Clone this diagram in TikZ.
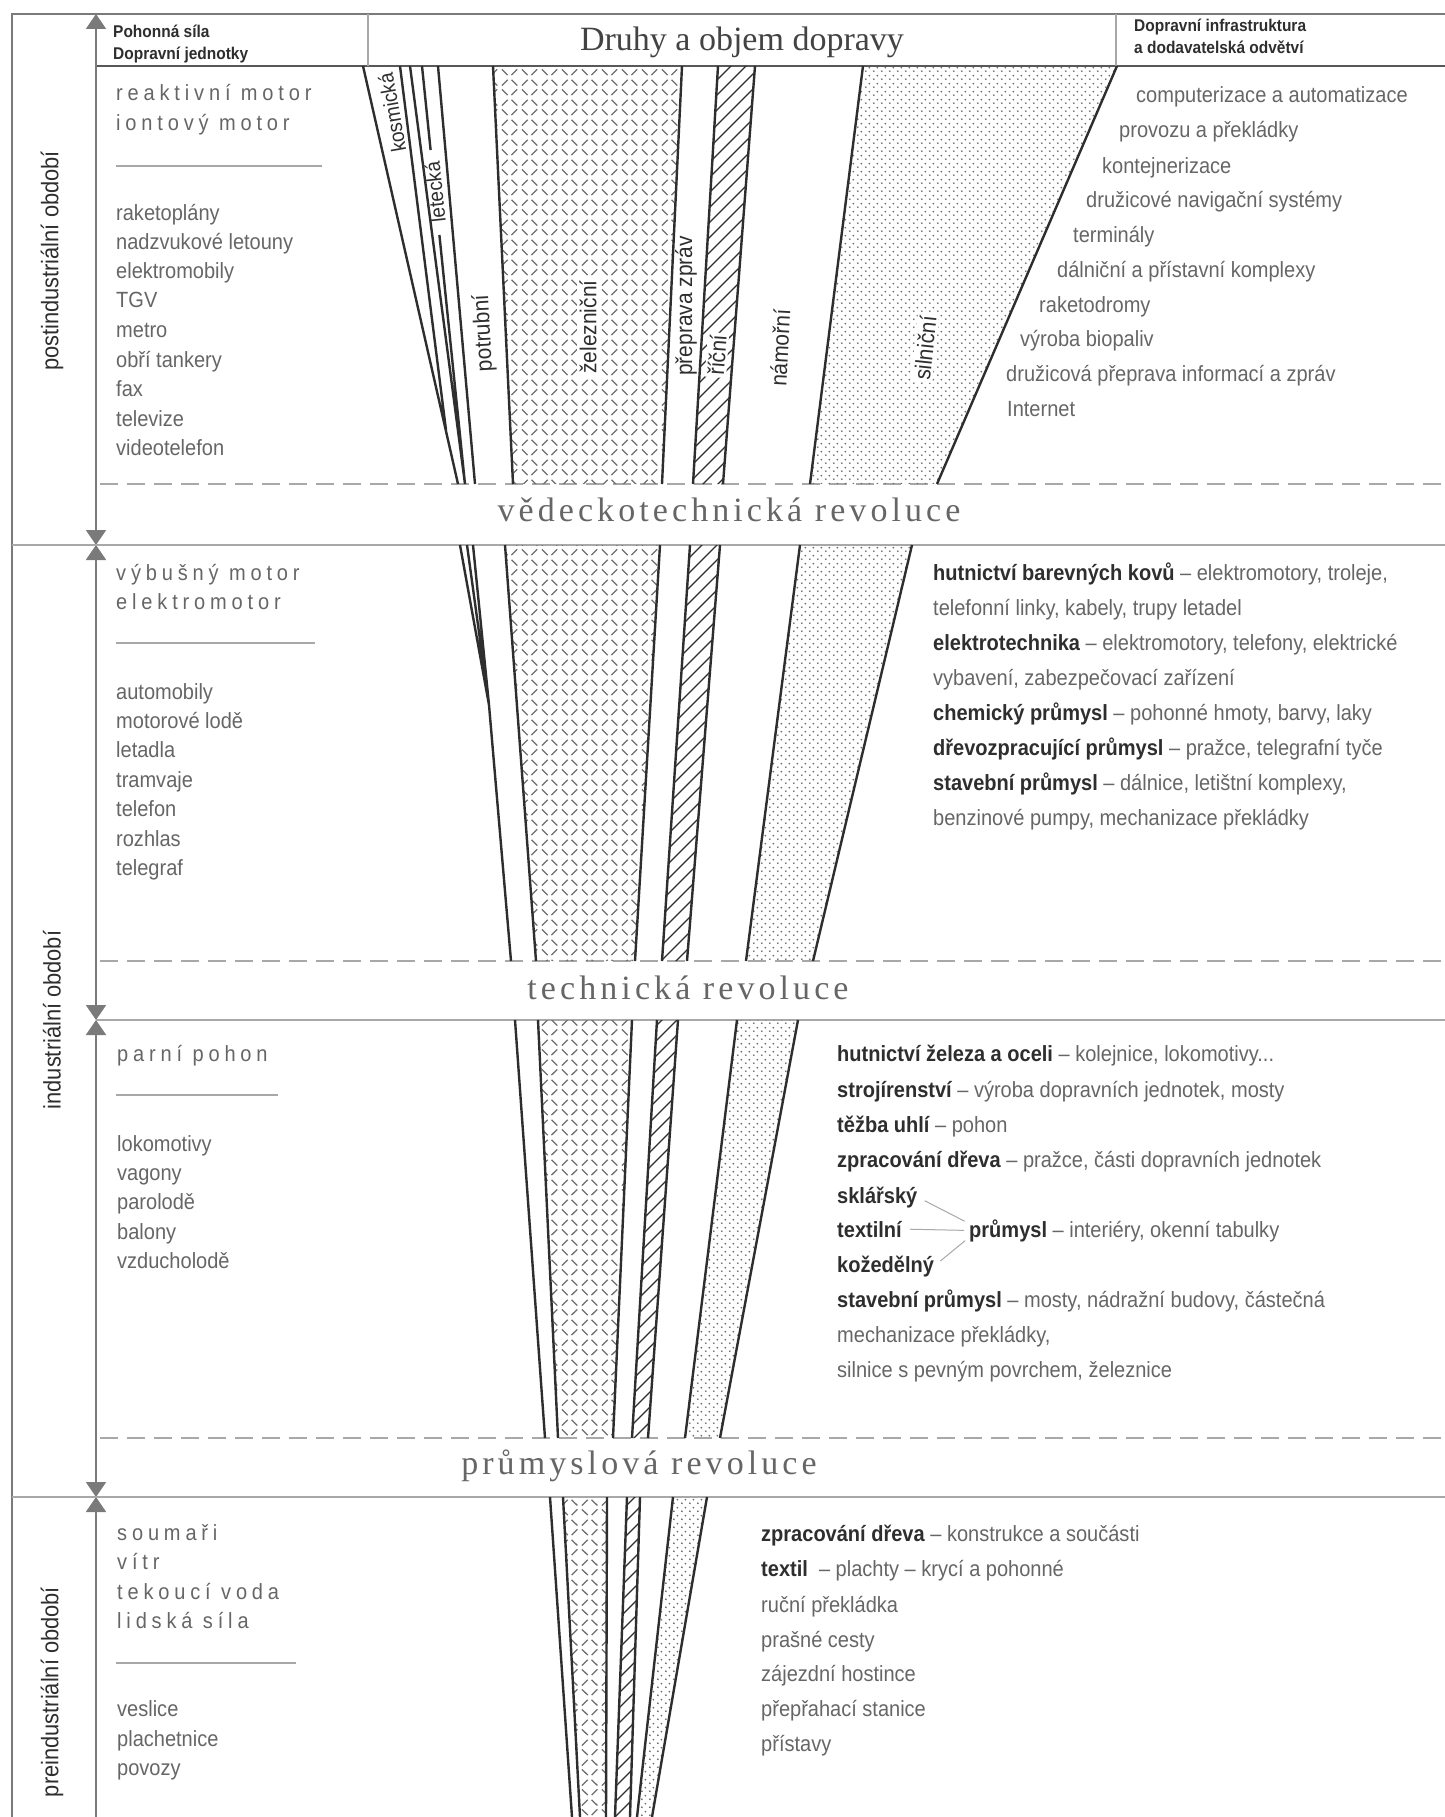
\documentclass[tikz,border=0pt]{standalone}
\usepackage{fontspec}
\setmainfont{Liberation Sans}[FakeStretch=0.91]
\newfontfamily\spaced{Liberation Sans}[FakeStretch=0.91,LetterSpace=22]
\newfontfamily\revfont{Liberation Serif}[LetterSpace=12]
\newfontfamily\titlefont{Liberation Serif}
\usetikzlibrary{arrows.meta,patterns}

\definecolor{ink}{HTML}{2E2E2E}
\definecolor{txt}{HTML}{666666}
\definecolor{framegray}{HTML}{7A7A7A}
\definecolor{rulegray}{HTML}{A8A8A8}
\definecolor{pattgray}{HTML}{6E6E6E}

\pgfdeclarepatternformonly{raildash}{\pgfqpoint{0pt}{0pt}}{\pgfqpoint{20pt}{20pt}}{\pgfqpoint{20pt}{20pt}}{%
  \pgfsetlinewidth{1.3pt}
  \pgfpathmoveto{\pgfqpoint{2pt}{12pt}}\pgfpathlineto{\pgfqpoint{8pt}{18pt}}
  \pgfpathmoveto{\pgfqpoint{12pt}{18pt}}\pgfpathlineto{\pgfqpoint{18pt}{12pt}}
  \pgfpathmoveto{\pgfqpoint{2pt}{8pt}}\pgfpathlineto{\pgfqpoint{8pt}{2pt}}
  \pgfpathmoveto{\pgfqpoint{12pt}{2pt}}\pgfpathlineto{\pgfqpoint{18pt}{8pt}}
  \pgfusepath{stroke}}
\pgfdeclarepatternformonly{rivhatch}{\pgfqpoint{-1pt}{-1pt}}{\pgfqpoint{16pt}{16pt}}{\pgfqpoint{15pt}{15pt}}{%
  \pgfsetlinewidth{1.3pt}
  \pgfpathmoveto{\pgfqpoint{0pt}{0pt}}\pgfpathlineto{\pgfqpoint{15.1pt}{15.1pt}}
  \pgfusepath{stroke}}
\pgfdeclarepatternformonly{roaddots}{\pgfqpoint{0pt}{0pt}}{\pgfqpoint{8pt}{8pt}}{\pgfqpoint{8pt}{8pt}}{%
  \pgfpathcircle{\pgfqpoint{2pt}{2pt}}{1.1pt}
  \pgfpathcircle{\pgfqpoint{6pt}{6pt}}{1.1pt}
  \pgfusepath{fill}}

\newcommand{\bhead}[1]{{\bfseries\color{ink}#1}}

\begin{document}
\begin{tikzpicture}[x=1pt,y=-1pt,>={Triangle[width=20pt,length=15pt]},
    item/.style={anchor=base west,yshift=-8pt,inner sep=0pt,text=txt,font=\fontsize{22}{26}\selectfont},
    power/.style={item,font=\spaced\fontsize{22}{26}\selectfont},
    head/.style={anchor=base west,yshift=-7pt,inner sep=0pt,text=ink,font=\bfseries\fontsize{17}{20}\selectfont},
    mode/.style={inner sep=2pt,text=ink,font=\fontsize{23}{26}\selectfont},
    era/.style={rotate=90,text=ink,font=\fontsize{24}{28}\selectfont},
    revolution/.style={text=txt,font=\revfont\fontsize{34}{40}\selectfont},
    funnel/.style={line width=2.4pt,draw=ink},
    frame/.style={line width=2.5pt,draw=framegray},
    hrule/.style={line width=1.3pt,draw=rulegray},
    cut/.style={hrule,dash pattern=on 18pt off 9pt},
    axis/.style={line width=2pt,draw=framegray,<->},
    brace line/.style={line width=1pt,draw=rulegray,shorten <=8pt,shorten >=5pt},
    rail/.style={pattern=raildash,pattern color=pattgray},
    river/.style={pattern=rivhatch,pattern color=ink},
    road/.style={pattern=roaddots,pattern color=pattgray}]
  \useasboundingbox (0,0) rectangle (1445,1817);
  \fill[white] (0,0) rectangle (1445,1817);

  \draw[frame] (1445,14) -- (12,14) -- (12,1817);
  \draw[line width=2pt,draw=ink!80] (96,66) -- (1445,66);
  \draw[hrule] (368,14) -- (368,66) (1116,14) -- (1116,66);
  \node[head] (hl1) at (113,31) {Pohonná síla};
  \node[head] (hl2) at (113,53) {Dopravní jednotky};
  \node[head] (hr1) at (1134,25) {Dopravní infrastruktura};
  \node[head] (hr2) at (1134,47) {a dodavatelská odvětví};
  \node[text=ink!90,font=\titlefont\fontsize{34}{40}\selectfont] (title) at (742,42) {Druhy a objem dopravy};

  \coordinate (ax0) at (96,14);
  \coordinate (ax1) at (96,545);
  \coordinate (ax2) at (96,1020);
  \coordinate (ax3) at (96,1497);
  \coordinate (ax4) at (96,1817);
  \draw[axis] (ax0) -- (ax1);
  \draw[axis] (ax1) -- (ax2);
  \draw[axis] (ax2) -- (ax3);
  \draw[axis,<-] (ax3) -- (ax4);

  \draw[hrule] (12,545) -- (1445,545) (96,1020) -- (1445,1020) (12,1497) -- (1445,1497);
  \draw[cut] (100,484) -- (1445,484) (100,961) -- (1445,961) (100,1438) -- (1445,1438);

  \node[era] (e1) at (52,261) {postindustriální období};
  \node[era] (e2) at (52,1020) {industriální období};
  \node[era] (e3) at (52,1692) {preindustriální období};

  \node[revolution] (r1) at (729,510) {vědeckotechnická revoluce};
  \node[revolution] (r2) at (688,988) {technická revoluce};
  \node[revolution] (r3) at (639,1466) {průmyslová revoluce};

  % postindustrial
  \fill[rail] (493,66) -- (682,66) -- (662,484) -- (513,484) -- cycle;
  \fill[river] (718,66) -- (755,66) -- (723,484) -- (693,484) -- cycle;
  \fill[road] (863,66) -- (1117,66) -- (937,484) -- (810,484) -- cycle;
  \draw[funnel] (363,66) -- (458,484) (400,66) -- (446,430) (410,66) -- (465,484)
    (422,66) -- (430.6,150) (439.4,235) -- (465,484) (438,66) -- (475,484)
    (493,66) -- (513,484) (682,66) -- (662,484) (718,66) -- (693,484)
    (755,66) -- (723,484) (863,66) -- (810,484) (1117,66) -- (937,484);
  \node[mode,rotate=100,inner sep=0pt,font=\fontsize{21}{24}\selectfont] (kos) at (392,113) {kosmická};
  \node[mode,rotate=96,inner sep=0pt,font=\fontsize{21}{24}\selectfont] (let) at (435,192) {letecká};
  \node[mode,rotate=93] (pot) at (484,333) {potrubní};
  \node[mode,rotate=90,fill=white] (zel) at (588,327) {železniční};
  \node[mode,rotate=90] (zpr) at (686,306) {přeprava zpráv};
  \node[mode,rotate=86,fill=white] (ric) at (717,355) {říční};
  \node[mode,rotate=87] (nam) at (780,348) {námořní};
  \node[mode,rotate=84,fill=white] (sil) at (925,348) {silniční};

  % industrial, upper part
  \fill[rail] (505,545) -- (660,545) -- (635,961) -- (536,961) -- cycle;
  \fill[river] (690,545) -- (720,545) -- (687,961) -- (662,961) -- cycle;
  \fill[road] (800,545) -- (912,545) -- (813,961) -- (746,961) -- cycle;
  \draw[funnel] (460,545) -- (489,705) (467,545) -- (489,705) (473,545) -- (489,705) -- (511,961)
    (505,545) -- (536,961) (660,545) -- (635,961) (690,545) -- (662,961)
    (720,545) -- (687,961) (800,545) -- (746,961) (912,545) -- (813,961);

  % industrial, lower part
  \fill[rail] (538,1020) -- (632,1020) -- (613,1438) -- (558,1438) -- cycle;
  \fill[river] (657,1020) -- (678,1020) -- (648,1438) -- (632,1438) -- cycle;
  \fill[road] (737,1020) -- (798,1020) -- (720,1438) -- (685,1438) -- cycle;
  \draw[funnel] (515,1020) -- (545,1438) (538,1020) -- (558,1438) (632,1020) -- (613,1438)
    (657,1020) -- (632,1438) (678,1020) -- (648,1438) (737,1020) -- (685,1438)
    (798,1020) -- (720,1438);

  % preindustrial
  \fill[rail] (563,1497) -- (607,1497) -- (606,1817) -- (580,1817) -- cycle;
  \fill[river] (627,1497) -- (640,1497) -- (630,1817) -- (615,1817) -- cycle;
  \fill[road] (673,1497) -- (707,1497) -- (652,1817) -- (637,1817) -- cycle;
  \draw[funnel] (550,1497) -- (572,1817) (563,1497) -- (580,1817) (607,1497) -- (606,1817)
    (627,1497) -- (615,1817) (640,1497) -- (630,1817) (673,1497) -- (637,1817)
    (707,1497) -- (652,1817);

  % left column
  \node[power] (pp1) at (116,93) {reaktivní motor};
  \node[power] (pp2) at (116,123) {iontový motor};
  \draw[hrule] (116,166) -- (322,166);
  \node[item] (pu1) at (116,212) {raketoplány};
  \node[item] (pu2) at (116,241) {nadzvukové letouny};
  \node[item] (pu3) at (116,270) {elektromobily};
  \node[item] (pu4) at (116,299) {TGV};
  \node[item] (pu5) at (116,329) {metro};
  \node[item] (pu6) at (116,359) {obří tankery};
  \node[item] (pu7) at (116,388) {fax};
  \node[item] (pu8) at (116,418) {televize};
  \node[item] (pu9) at (116,447) {videotelefon};

  \node[power] (ip1) at (116,572) {výbušný motor};
  \node[power] (ip2) at (116,601) {elektromotor};
  \draw[hrule] (116,643) -- (315,643);
  \node[item] (iu1) at (116,691) {automobily};
  \node[item] (iu2) at (116,720) {motorové lodě};
  \node[item] (iu3) at (116,749) {letadla};
  \node[item] (iu4) at (116,779) {tramvaje};
  \node[item] (iu5) at (116,808) {telefon};
  \node[item] (iu6) at (116,838) {rozhlas};
  \node[item] (iu7) at (116,867) {telegraf};

  \node[power] (sp1) at (117,1053) {parní pohon};
  \draw[hrule] (116,1095) -- (278,1095);
  \node[item] (su1) at (117,1143) {lokomotivy};
  \node[item] (su2) at (117,1172) {vagony};
  \node[item] (su3) at (117,1201) {parolodě};
  \node[item] (su4) at (117,1231) {balony};
  \node[item] (su5) at (117,1260) {vzducholodě};

  \node[power] (rp1) at (117,1532) {soumaři};
  \node[power] (rp2) at (117,1561) {vítr};
  \node[power] (rp3) at (117,1591) {tekoucí voda};
  \node[power] (rp4) at (117,1620) {lidská síla};
  \draw[hrule] (116,1663) -- (296,1663);
  \node[item] (ru1) at (117,1708) {veslice};
  \node[item] (ru2) at (117,1738) {plachetnice};
  \node[item] (ru3) at (117,1767) {povozy};

  % right column
  \node[item] (pi1) at (1136,95) {computerizace a automatizace};
  \node[item] (pi2) at (1119,130) {provozu a překládky};
  \node[item] (pi3) at (1102,165) {kontejnerizace};
  \node[item] (pi4) at (1086,199) {družicové navigační systémy};
  \node[item] (pi5) at (1073,234) {terminály};
  \node[item] (pi6) at (1057,269) {dálniční a přístavní komplexy};
  \node[item] (pi7) at (1039,304) {raketodromy};
  \node[item] (pi8) at (1020,338) {výroba biopaliv};
  \node[item] (pi9) at (1006,373) {družicová přeprava informací a zpráv};
  \node[item] (pi10) at (1007,408) {Internet};

  \node[item] (ii1) at (933,572) {\bhead{hutnictví barevných kovů} – elektromotory, troleje,};
  \node[item] (ii2) at (933,607) {telefonní linky, kabely, trupy letadel};
  \node[item] (ii3) at (933,642) {\bhead{elektrotechnika} – elektromotory, telefony, elektrické};
  \node[item] (ii4) at (933,677) {vybavení, zabezpečovací zařízení};
  \node[item] (ii5) at (933,712) {\bhead{chemický průmysl} – pohonné hmoty, barvy, laky};
  \node[item] (ii6) at (933,747) {\bhead{dřevozpracující průmysl} – pražce, telegrafní tyče};
  \node[item] (ii7) at (933,782) {\bhead{stavební průmysl} – dálnice, letištní komplexy,};
  \node[item] (ii8) at (933,817) {benzinové pumpy, mechanizace překládky};

  \node[item] (si1) at (837,1053) {\bhead{hutnictví železa a oceli} – kolejnice, lokomotivy...};
  \node[item] (si2) at (837,1089) {\bhead{strojírenství} – výroba dopravních jednotek, mosty};
  \node[item] (si3) at (837,1124) {\bhead{těžba uhlí} – pohon};
  \node[item] (si4) at (837,1159) {\bhead{zpracování dřeva} – pražce, části dopravních jednotek};
  \node[item] (skl) at (837,1195) {\bhead{sklářský}};
  \node[item] (txl) at (837,1229) {\bhead{textilní}};
  \node[item] (koz) at (837,1264) {\bhead{kožedělný}};
  \node[item] (prm) at (969,1229) {\bhead{průmysl} – interiéry, okenní tabulky};
  \node[item] (si5) at (837,1299) {\bhead{stavební průmysl} – mosty, nádražní budovy, částečná};
  \node[item] (si6) at (837,1334) {mechanizace překládky,};
  \node[item] (si7) at (837,1369) {silnice s pevným povrchem, železnice};
  \draw[brace line] (skl.east) -- ([yshift=7pt]prm.west);
  \draw[brace line] (txl.east) -- (prm.west);
  \draw[brace line] (koz.east) -- ([yshift=-7pt]prm.west);

  \node[item] (ri1) at (761,1533) {\bhead{zpracování dřeva} – konstrukce a součásti};
  \node[item] (ri2) at (761,1568) {\bhead{textil}~ – plachty – krycí a pohonné};
  \node[item] (ri3) at (761,1604) {ruční překládka};
  \node[item] (ri4) at (761,1639) {prašné cesty};
  \node[item] (ri5) at (761,1673) {zájezdní hostince};
  \node[item] (ri6) at (761,1708) {přepřahací stanice};
  \node[item] (ri7) at (761,1743) {přístavy};
\end{tikzpicture}
\end{document}
